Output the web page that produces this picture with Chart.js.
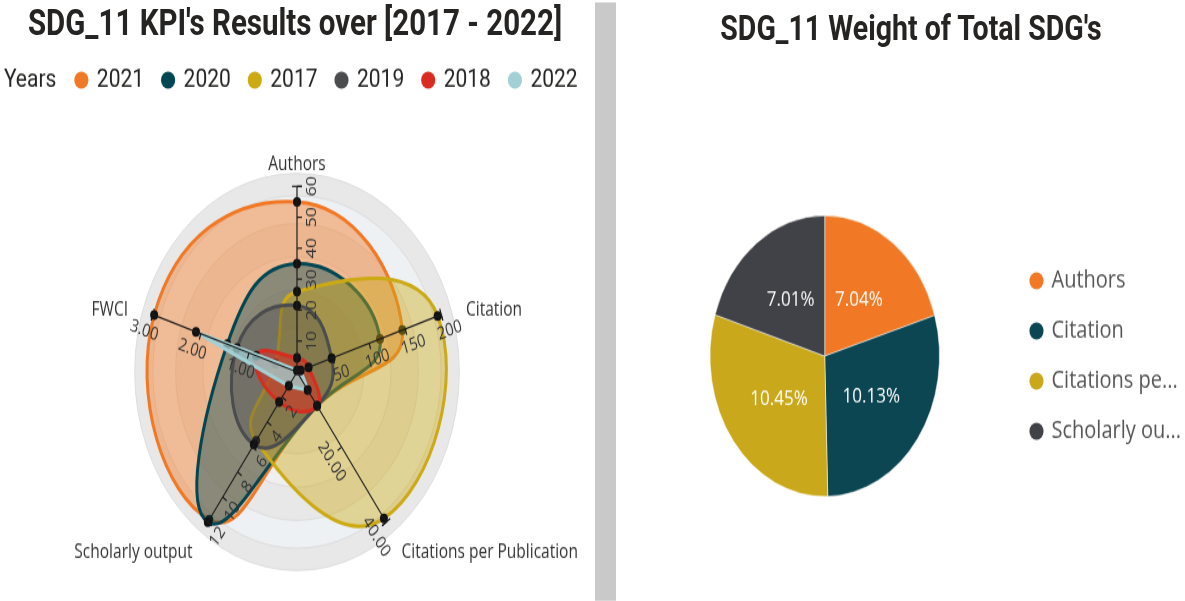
<!DOCTYPE html>
<html>
<head>
<meta charset="utf-8">
<script src="https://cdn.jsdelivr.net/npm/chart.js@4.4.1/dist/chart.umd.min.js"></script>
<style>
  html { overflow: hidden; }
  body { margin: 0; padding: 0; background: #fff; height: 601px; }
  #page { position: relative; width: 1185px; height: 491px; transform: scaleY(1.2235); transform-origin: 0 0; }
  .title { position: absolute; font-family: Roboto, sans-serif; font-weight: bold; color: #252423; line-height: 1; white-space: nowrap; transform: translateX(-50%); }
  #divider { position: absolute; left: 595px; top: 2px; width: 21px; height: 489px; background: #c9c9c9; }
  canvas { position: absolute; top: 0; }
</style>
</head>
<body>
<div id="page">
  <div class="title" style="left:295px; top:5px; font-size:29.5px;">SDG_11 KPI's Results over [2017 - 2022]</div>
  <div class="title" style="left:911px; top:10px; font-size:28.5px;">SDG_11 Weight of Total SDG's</div>
  <canvas id="radar" width="594" height="530" style="left:0"></canvas>
  <div id="divider"></div>
  <canvas id="pie" width="600" height="491" style="left:617px"></canvas>
</div>
<script>
// radar: five KPI axes, each one with its own range
var kpis = ["Authors", "Citation", "Citations per Publication", "Scholarly output", "FWCI"];
var kpiMax = [60, 200, 40, 12, 3];
var authorTicks = [10, 20, 30, 40, 50, 60];
var citationTicks = [50, 100, 150, 200];
var perPubTicks = [20, 40];
var outputTicks = [2, 4, 6, 8, 10, 12];
var fwciTicks = [1, 2, 3];
var tickDecimals = [0, 0, 2, 0, 2];

var years = ["2021", "2020", "2017", "2019", "2018", "2022"];
var y2021 = [55, 146, 9, 11.8, 2.97];
var y2020 = [35, 115, 9, 12, 1.45];
var y2017 = [26, 195, 39, 5.5, 0.45];
var y2019 = [21.5, 48, 9, 5.8, 1.25];
var y2018 = [4.5, 16, 9, 2.4, 0.85];
var y2022 = [0.5, 5, 4.8, 1.1, 2.1];

// pie
var pieLabels = ["Authors", "Citation", "Citations per Publication", "Scholarly output"];
var pieShare = [7.04, 10.13, 10.45, 7.01];

var kpiTicks = [authorTicks, citationTicks, perPubTicks, outputTicks, fwciTicks];
var yearValues = [y2021, y2020, y2017, y2019, y2018, y2022];
var yearColors = ["#F17925", "#004753", "#CCAA14", "#4B4C4E", "#D82C20", "#A3D0D4"];
var yearFills = ["rgba(241,121,37,0.45)", "rgba(0,71,83,0.42)", "rgba(204,170,20,0.42)",
  "rgba(75,76,78,0.38)", "rgba(216,44,32,0.55)", "rgba(163,208,212,0.75)"];
var pieColors = ["#F17925", "#0B4652", "#C9A91B", "#404247"];

// background rings, axis lines, per-axis ticks and axis titles
var kpiAxes = {
  id: "kpiAxes",
  beforeDatasetsDraw: function (chart) {
    var s = chart.scales.r, ctx = chart.ctx;
    var R = s.getDistanceFromCenterForValue(1);
    var rings = [[1.07, "#e8e8e8"], [0.95, "#eef1f4"], [0.8, "#e8e8e8"], [0.62, "#efefef"], [0.44, "#e8e8e8"], [0.24, "#efefef"]];
    ctx.save();
    rings.forEach(function (r) {
      ctx.beginPath();
      ctx.arc(s.xCenter, s.yCenter, R * r[0], 0, 2 * Math.PI);
      ctx.fillStyle = r[1];
      ctx.fill();
      ctx.strokeStyle = "#dddddd";
      ctx.lineWidth = 1;
      ctx.stroke();
    });
    ctx.restore();
  },
  afterDatasetsDraw: function (chart) {
    var s = chart.scales.r, ctx = chart.ctx;
    var R = s.getDistanceFromCenterForValue(1);
    ctx.save();
    ctx.strokeStyle = "#1b1b1b";
    ctx.lineWidth = 1.2;
    ctx.fillStyle = "#333";
    kpis.forEach(function (k, i) {
      var end = s.getPointPositionForValue(i, 1);
      ctx.beginPath();
      ctx.moveTo(s.xCenter, s.yCenter);
      ctx.lineTo(end.x, end.y);
      ctx.stroke();
      var a = end.angle;
      var ux = Math.cos(a), uy = Math.sin(a);
      var rot = ux < -1e-6 ? a + Math.PI : a;
      var px = -Math.sin(rot), py = Math.cos(rot);
      ctx.beginPath();
      ctx.moveTo(end.x - px * 5, end.y - py * 5);
      ctx.lineTo(end.x + px * 5, end.y + py * 5);
      ctx.stroke();
      ctx.font = '14.5px "Open Sans"';
      var out = i === 0 ? 0 : 4;
      kpiTicks[i].forEach(function (t) {
        var p = s.getPointPositionForValue(i, t / kpiMax[i]);
        ctx.beginPath();
        ctx.moveTo(p.x, p.y);
        ctx.lineTo(p.x + px * 5, p.y + py * 5);
        ctx.stroke();
        ctx.save();
        ctx.translate(p.x + px * 15 + ux * out, p.y + py * 15 + uy * out);
        ctx.rotate(rot);
        ctx.textAlign = "center";
        ctx.textBaseline = "middle";
        ctx.fillText(t.toFixed(tickDecimals[i]), 0, 0);
        ctx.restore();
      });
      // axis title
      var q = s.getPointPosition(i, R + (Math.abs(ux) < 0.1 ? 18 : 26));
      ctx.font = '15.5px "Open Sans"';
      ctx.textAlign = ux > 0.1 ? "left" : (ux < -0.1 ? "right" : "center");
      ctx.textBaseline = "middle";
      ctx.fillText(k, q.x, Math.abs(ux) < 0.1 ? q.y : q.y + 4);
    });
    ctx.restore();
  }
};

// moves the legend row and writes its "Years" caption
var legendNudge = {
  id: "legendNudge",
  afterUpdate: function (chart, args, opts) {
    var lg = chart.legend, d = opts.shift || 0;
    lg.left += d;
    lg.right += d;
    lg.legendHitBoxes.forEach(function (h) { h.left += d; });
  },
  afterDraw: function (chart, args, opts) {
    var h = chart.legend.legendHitBoxes[0], ctx = chart.ctx;
    ctx.save();
    ctx.font = "21px Roboto";
    ctx.fillStyle = "#252423";
    ctx.textAlign = "right";
    ctx.textBaseline = "middle";
    ctx.fillText(opts.caption, h.left - 20, h.top + h.height / 2);
    ctx.restore();
  }
};

new Chart(document.getElementById("radar").getContext("2d"), {
  type: "radar",
  data: {
    labels: kpis,
    datasets: years.map(function (y, j) {
      return {
        label: y,
        data: yearValues[j].map(function (v, i) { return v / kpiMax[i]; }),
        order: years.length - j,
        borderColor: yearColors[j],
        backgroundColor: yearFills[j],
        borderWidth: 3,
        fill: true,
        tension: y === "2022" ? 0.05 : 0.5,
        pointRadius: 4,
        pointBorderWidth: 0,
        pointBackgroundColor: "#111"
      };
    })
  },
  options: {
    responsive: false,
    animation: false,
    events: [],
    layout: { padding: { top: 36, bottom: 8, left: 0, right: 0 } },
    scales: {
      r: {
        min: 0,
        max: 1.437,
        startAngle: 0,
        grid: { display: false },
        angleLines: { display: false },
        pointLabels: { display: false },
        ticks: { display: false }
      }
    },
    plugins: {
      tooltip: { enabled: false },
      legendNudge: { shift: 30, caption: "Years" },
      legend: {
        position: "top",
        labels: {
          usePointStyle: true,
          pointStyle: "circle",
          boxWidth: 10,
          boxHeight: 10,
          padding: 19,
          color: "#252423",
          font: { family: "Roboto", size: 21 },
          generateLabels: function (chart) {
            var items = Chart.defaults.plugins.legend.labels.generateLabels(chart);
            items.sort(function (a, b) { return a.datasetIndex - b.datasetIndex; });
            items.forEach(function (it) {
              it.fillStyle = yearColors[it.datasetIndex];
              it.strokeStyle = yearColors[it.datasetIndex];
              it.lineWidth = 0;
            });
            return items;
          }
        }
      }
    }
  },
  plugins: [kpiAxes, legendNudge]
});

// percentage text inside each slice
var sliceLabels = {
  id: "sliceLabels",
  afterDatasetsDraw: function (chart) {
    var ctx = chart.ctx;
    ctx.save();
    ctx.font = '17px "Open Sans"';
    ctx.fillStyle = "#ffffff";
    ctx.textAlign = "center";
    ctx.textBaseline = "middle";
    chart.getDatasetMeta(0).data.forEach(function (arc, i) {
      var p = arc.tooltipPosition();
      ctx.fillText(pieShare[i].toFixed(2) + "%", p.x, p.y);
    });
    ctx.restore();
  }
};

new Chart(document.getElementById("pie").getContext("2d"), {
  type: "pie",
  data: {
    labels: pieLabels,
    datasets: [{
      data: pieShare,
      backgroundColor: pieColors,
      borderColor: "#ffffff",
      borderWidth: 0.5
    }]
  },
  options: {
    responsive: false,
    animation: false,
    events: [],
    layout: { padding: { top: 176, bottom: 85, left: 22, right: 26 } },
    plugins: {
      tooltip: { enabled: false },
      legend: {
        position: "right",
        maxWidth: 190,
        labels: {
          usePointStyle: true,
          pointStyle: "circle",
          boxWidth: 10,
          boxHeight: 10,
          padding: 21,
          color: "#555",
          font: { family: "Open Sans", size: 20 },
          generateLabels: function (chart) {
            var items = Chart.overrides.pie.plugins.legend.labels.generateLabels(chart);
            items.forEach(function (it) {
              if (it.text.length > 12) it.text = it.text.slice(0, 12) + "...";
              it.lineWidth = 0;
            });
            return items;
          }
        }
      }
    }
  },
  plugins: [sliceLabels]
});
</script>
</body>
</html>
